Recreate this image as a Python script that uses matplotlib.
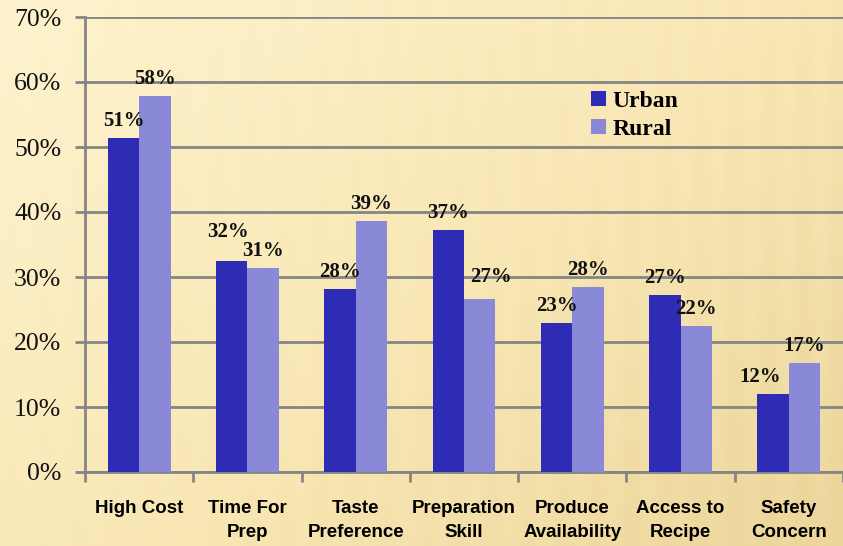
import numpy as np
import matplotlib.pyplot as plt
from matplotlib.colors import LinearSegmentedColormap

# data
categories = ['High Cost', 'Time For\nPrep', 'Taste\nPreference', 'Preparation\nSkill',
              'Produce\nAvailability', 'Access to\nRecipe', 'Safety\nConcern']
urban = [51.4, 32.4, 28.2, 37.2, 22.9, 27.3, 12.0]
rural = [57.9, 31.4, 38.6, 26.6, 28.4, 22.4, 16.8]
yticks = [0, 10, 20, 30, 40, 50, 60, 70]

urban_color = '#2E2BB5'
rural_color = '#8A89D8'

# small label nudges (points) so neighbouring labels don't collide, like the original
nudge_urban = {1: (-3, 9), 6: (-9, 0)}
nudge_rural = {3: (8, 4)}

fig = plt.figure(figsize=(8.43, 5.46), dpi=100)

# beige striped background
bg = fig.add_axes([0, 0, 1, 1], zorder=-10)
h, w = 546, 843
yy, xx = np.mgrid[0:h, 0:w]
grad = 0.55 * (xx / w) + 0.45 * (yy / h)
stripes = 0.09 * (0.5 + 0.5 * np.sin(xx / 5.5)) * (0.4 + 0.6 * xx / w)
shade = np.clip(grad + stripes, 0, 1)
cmap = LinearSegmentedColormap.from_list('bg', ['#FEF3CF', '#F9E8B6', '#EAD397'])
bg.imshow(shade, cmap=cmap, aspect='auto', extent=[0, 1, 0, 1], vmin=0, vmax=1.1)
bg.axis('off')

ax = fig.add_axes([85 / 843, 1 - 472 / 546, 1 - 85 / 843, (472 - 17) / 546])
ax.set_facecolor('none')

x = np.arange(len(categories))
bw = 0.29
b1 = ax.bar(x - bw / 2, urban, bw, color=urban_color, label='Urban', zorder=3)
b2 = ax.bar(x + bw / 2, rural, bw, color=rural_color, label='Rural', zorder=3)

for bars, vals, nudge in [(b1, urban, nudge_urban), (b2, rural, nudge_rural)]:
    for i, (b, v) in enumerate(zip(bars, vals)):
        dx, dy = nudge.get(i, (0, 0))
        ax.annotate(f'{v:.0f}%', (b.get_x() + b.get_width() / 2, v),
                    xytext=(dx, 5 + dy), textcoords='offset points', ha='center', va='bottom',
                    family='Liberation Serif', fontsize=15, fontweight='bold', color='#111111',
                    zorder=5)

ax.set_xlim(-0.5, len(categories) - 0.5)
ax.set_ylim(0, 70)
ax.set_yticks(yticks)
ax.set_yticklabels([f'{t}%' for t in yticks], family='Liberation Serif', fontsize=18.5,
                   color='#111111')
ax.yaxis.grid(True, color='#858585', linewidth=2, zorder=1)
ax.set_axisbelow(True)

ax.set_xticks(x)
ax.set_xticklabels(categories, family='Liberation Sans', fontsize=13.5, fontweight='bold',
                   linespacing=1.55)
ax.set_xticks(np.arange(len(categories) + 1) - 0.5, minor=True)
ax.tick_params(axis='x', which='major', length=0, pad=20)
ax.tick_params(axis='x', which='minor', length=7, width=2, color='#858585')
ax.tick_params(axis='y', length=7, width=2, color='#858585', pad=10)

for s in ['top', 'right']:
    ax.spines[s].set_visible(False)
for s in ['left', 'bottom']:
    ax.spines[s].set_color('#858585')
    ax.spines[s].set_linewidth(2)

ax.legend(loc='upper left', bbox_to_anchor=(0.64, 0.885), frameon=False,
          prop={'family': 'Liberation Serif', 'size': 17, 'weight': 'bold'},
          handlelength=0.6, handleheight=0.6, handletextpad=0.3, labelspacing=0.3)

fig.savefig('out.png', dpi=100)
